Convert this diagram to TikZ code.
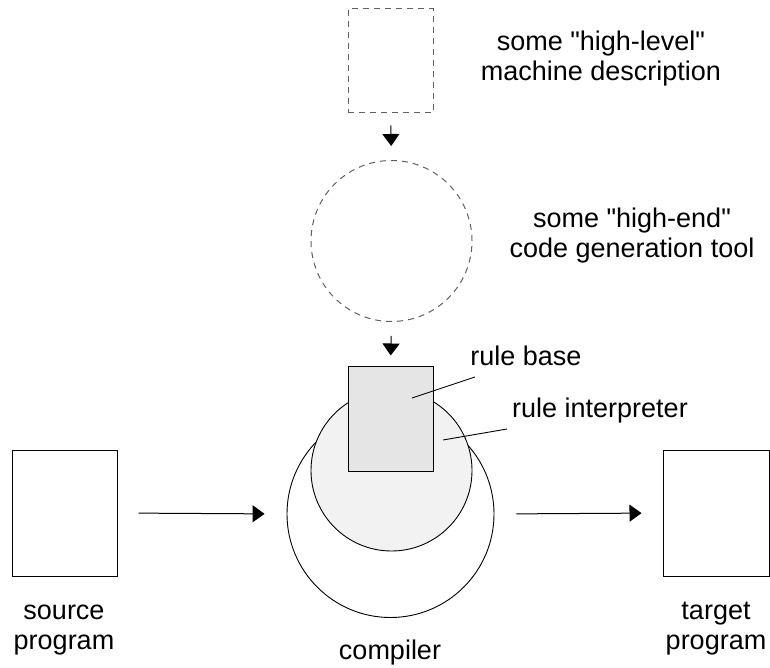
\documentclass[tikz,border=0pt]{standalone}
\usepackage{fontspec}
\setmainfont{Liberation Sans}[Ligatures=TeXOff]
\usetikzlibrary{arrows.meta}
\definecolor{dashgray}{HTML}{606060}
\definecolor{basefill}{HTML}{E5E5E5}
\definecolor{interpfill}{HTML}{F2F2F2}
\begin{document}
\begin{tikzpicture}[x=1pt,y=-1pt,
  box/.style={draw=black,line width=1pt,rectangle,inner sep=0pt},
  dbox/.style={draw=dashgray,line width=1pt,dash pattern=on 6pt off 5pt,inner sep=0pt},
  circ/.style={draw=black,line width=0.9pt,circle,inner sep=0pt},
  arr/.style={line width=1pt,-{Triangle[length=12pt,width=17pt]}},
  lead/.style={line width=0.9pt},
  lbl/.style={font=\fontsize{27}{31}\selectfont,anchor=base,inner sep=0pt}]
\useasboundingbox (0,0) rectangle (770,668);
% shapes
\node[dbox,rectangle,minimum width=85pt,minimum height=104pt] (mdesc) at (390.5,61) {};
\node[dbox,circle,minimum size=161pt] (tool) at (391.5,241) {};
\node[circ,minimum size=207pt] (compiler) at (390.5,514) {};
\node[circ,fill=interpfill,minimum size=161pt] (interp) at (391.5,470.5) {};
\node[box,fill=basefill,minimum width=85pt,minimum height=105pt] (rules) at (390.5,418.5) {};
\node[box,minimum width=105pt,minimum height=126pt] (source) at (64.5,513) {};
\node[box,minimum width=106pt,minimum height=126pt] (target) at (716,513) {};
% arrows
\draw[arr,shorten <=12pt,shorten >=14pt] (mdesc.south) -- (tool.north);
\draw[arr,shorten <=14pt,shorten >=10pt] (tool.south) -- (rules.north);
\draw[arr,shorten <=21pt,shorten >=22pt] (source.east) -- (compiler.west);
\draw[arr,shorten <=22pt,shorten >=21pt] (compiler.east) -- (target.west);
% leader lines
\coordinate (rbin) at (412,398);
\coordinate (rbout) at (475,377);
\coordinate (riin) at (443,440);
\coordinate (riout) at (507,429);
\draw[lead] (rbin) -- (rbout);
\draw[lead] (riin) -- (riout);
% labels
\node[lbl] (t1) at (601,51) {some "high-level"};
\node[lbl] (t2) at (601,81) {machine description};
\node[lbl] (t3) at (632,228) {some "high-end"};
\node[lbl] (t4) at (632,258) {code generation tool};
\node[lbl] (t5) at (526,365) {rule base};
\node[lbl] (t6) at (600,417) {rule interpreter};
\node[lbl] (t7) at (64,619) {source};
\node[lbl] (t8) at (64,649) {program};
\node[lbl] (t9) at (716,619) {target};
\node[lbl] (t10) at (716,649) {program};
\node[lbl] (t11) at (390,659) {compiler};
\end{tikzpicture}
\end{document}
